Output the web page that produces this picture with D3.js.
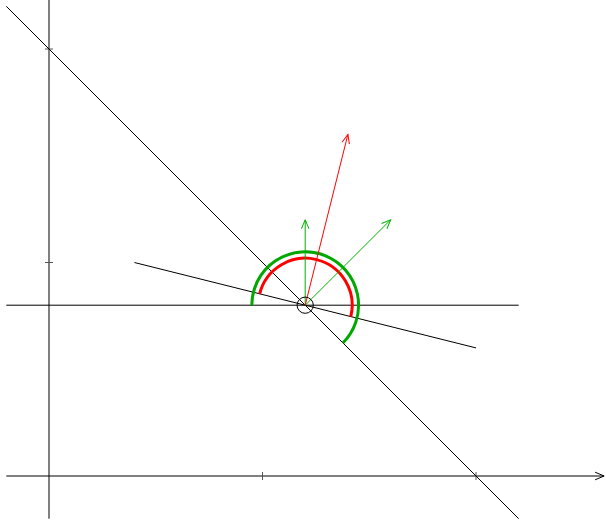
<!DOCTYPE html>
<html>
<head>
<meta charset="utf-8">
<script src="https://cdn.jsdelivr.net/npm/d3@7"></script>
<style>
  html, body { margin: 0; padding: 0; background: #fff; }
  svg { display: block; }
</style>
</head>
<body>
<div id="chart"></div>
<script>
// geometry in plot units, origin at the axes crossing
const xTicks = [1, 2];
const yTicks = [1, 2];
const xAxisSpan = [-0.2, 2.6];
const yAxisSpan = [-0.2, 2.3];
const center = [1.2, 0.8];
const blackLines = [
  [[-0.2, 2.2], [2.2, -0.2]],
  [[-0.2, 0.8], [2.2, 0.8]],
  [[0.4, 1.0], [2.0, 0.6]]
];
const greenArrows = [[1.2, 1.2], [1.6, 1.2]];
const redArrows = [[1.4, 1.6]];
// arcs: radius, start angle, end angle (degrees, counterclockwise)
const redArc = [0.22, -14.04, 165.96];
const greenArc = [0.25, -45, 180];
const markRadius = 0.038;

const width = 606, height = 520;

const x = d3.scaleLinear().domain([0, 2]).range([49, 476]);
const y = d3.scaleLinear().domain([0, 2]).range([476, 49]);
const unit = x(1) - x(0);

const svg = d3.select('#chart').append('svg')
    .attr('width', width)
    .attr('height', height);

// arrowheads
const defs = svg.append('defs');
[['blk', '#000'], ['grn', '#00b000'], ['red', '#ff0000']].forEach(function (m) {
  defs.append('marker')
      .attr('id', 'arr-' + m[0])
      .attr('markerUnits', 'userSpaceOnUse')
      .attr('viewBox', '-12 -6 14 12')
      .attr('markerWidth', 14)
      .attr('markerHeight', 12)
      .attr('refX', 0)
      .attr('refY', 0)
      .attr('orient', 'auto')
      .append('path')
      .attr('d', 'M-9,-3.8 L0,0 L-9,3.8')
      .attr('fill', 'none')
      .attr('stroke', m[1])
      .attr('stroke-width', 1);
});

const line = d3.line().x(d => x(d[0])).y(d => y(d[1]));

// axes
svg.append('line')
    .attr('x1', x(xAxisSpan[0])).attr('x2', x(xAxisSpan[1]))
    .attr('y1', y(0)).attr('y2', y(0))
    .attr('stroke', '#000').attr('stroke-width', 1)
    .attr('marker-end', 'url(#arr-blk)');
svg.append('line')
    .attr('x1', x(0)).attr('x2', x(0))
    .attr('y1', y(yAxisSpan[0])).attr('y2', y(yAxisSpan[1]))
    .attr('stroke', '#000').attr('stroke-width', 1);

svg.selectAll('.xtick')
    .data(xTicks)
    .enter().append('line')
    .attr('class', 'xtick')
    .attr('x1', d => x(d)).attr('x2', d => x(d))
    .attr('y1', y(0) - 4).attr('y2', y(0) + 4)
    .attr('stroke', '#555').attr('stroke-width', 1);
svg.selectAll('.ytick')
    .data(yTicks)
    .enter().append('line')
    .attr('class', 'ytick')
    .attr('x1', x(0) - 4).attr('x2', x(0) + 4)
    .attr('y1', d => y(d)).attr('y2', d => y(d))
    .attr('stroke', '#555').attr('stroke-width', 1);

// black lines
svg.selectAll('.bline')
    .data(blackLines)
    .enter().append('path')
    .attr('class', 'bline')
    .attr('d', line)
    .attr('fill', 'none')
    .attr('stroke', '#000')
    .attr('stroke-width', 1);

// arcs
function arcPath(a) {
  const p = d3.path();
  const r = a[0] * unit;
  const a0 = -a[1] * Math.PI / 180, a1 = -a[2] * Math.PI / 180;
  p.arc(x(center[0]), y(center[1]), r, a0, a1, true);
  return p.toString();
}
svg.append('path')
    .attr('d', arcPath(greenArc))
    .attr('fill', 'none')
    .attr('stroke', '#00a800')
    .attr('stroke-width', 3);
svg.append('path')
    .attr('d', arcPath(redArc))
    .attr('fill', 'none')
    .attr('stroke', '#ff0000')
    .attr('stroke-width', 3);

// vectors
svg.selectAll('.gvec')
    .data(greenArrows)
    .enter().append('path')
    .attr('class', 'gvec')
    .attr('d', d => line([center, d]))
    .attr('stroke', '#00b000')
    .attr('stroke-width', 1)
    .attr('marker-end', 'url(#arr-grn)');
svg.selectAll('.rvec')
    .data(redArrows)
    .enter().append('path')
    .attr('class', 'rvec')
    .attr('d', d => line([center, d]))
    .attr('stroke', '#ff0000')
    .attr('stroke-width', 1)
    .attr('marker-end', 'url(#arr-red)');

// small circle at the point
svg.append('circle')
    .attr('cx', x(center[0]))
    .attr('cy', y(center[1]))
    .attr('r', markRadius * unit)
    .attr('fill', 'none')
    .attr('stroke', '#000')
    .attr('stroke-width', 1);
</script>
</body>
</html>
